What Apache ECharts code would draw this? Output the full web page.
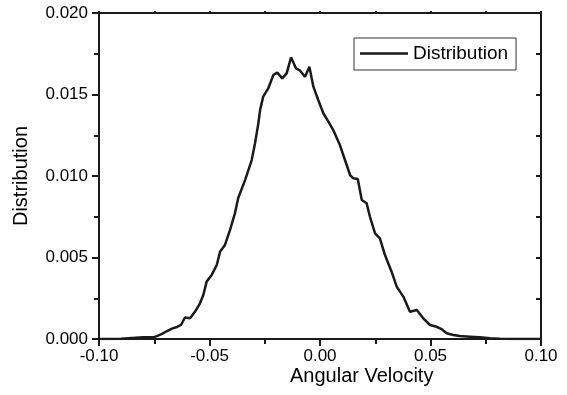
<!DOCTYPE html>
<html>
<head>
<meta charset="utf-8">
<script src="https://cdn.jsdelivr.net/npm/echarts@6/dist/echarts.min.js"></script>
<style>
  html, body { margin: 0; padding: 0; background: #fff; }
  #chart { width: 567px; height: 395px; }
</style>
</head>
<body>
<div id="chart"></div>
<script>
const angularVelocity = [
  -0.1000, -0.0950, -0.0900, -0.0851, -0.0801, -0.0751, -0.0738, -0.0715, -0.0692, -0.0670,
  -0.0647, -0.0629, -0.0611, -0.0588, -0.0566, -0.0543, -0.0528, -0.0513, -0.0490, -0.0467,
  -0.0452, -0.0430, -0.0407, -0.0385, -0.0370, -0.0339, -0.0309, -0.0294, -0.0279, -0.0271,
  -0.0257, -0.0234, -0.0211, -0.0193, -0.0171, -0.0151, -0.0131, -0.0109, -0.0090, -0.0068,
  -0.0048, -0.0030, -0.0008, 0.0015, 0.0038, 0.0060, 0.0090, 0.0113, 0.0136, 0.0151,
  0.0171, 0.0189, 0.0211, 0.0226, 0.0249, 0.0271, 0.0294, 0.0324, 0.0347, 0.0377,
  0.0407, 0.0438, 0.0467, 0.0498, 0.0528, 0.0551, 0.0573, 0.0603, 0.0633, 0.0679,
  0.0724, 0.0769, 0.0814, 0.0860, 0.1000
];
const distribution = [
  0, 0, 0.00001, 0.00006, 0.0001, 0.00011, 0.00018, 0.00031, 0.00049, 0.00064,
  0.00074, 0.00086, 0.00132, 0.00127, 0.00167, 0.00219, 0.0027, 0.00352, 0.00393, 0.00454,
  0.00536, 0.00577, 0.00669, 0.00771, 0.00865, 0.00975, 0.01098, 0.01201, 0.01323, 0.01405,
  0.01487, 0.01538, 0.0162, 0.01634, 0.01599, 0.0163, 0.01728, 0.01661, 0.01646, 0.01609,
  0.01671, 0.01548, 0.01466, 0.01385, 0.01333, 0.01282, 0.0119, 0.01098, 0.01006, 0.00986,
  0.00982, 0.00853, 0.00833, 0.0075, 0.00648, 0.00618, 0.00515, 0.00413, 0.00321, 0.0026,
  0.00167, 0.00178, 0.00127, 0.00086, 0.00075, 0.0006, 0.00035, 0.00025, 0.00018, 0.00014,
  0.0001, 0.00005, 0.00001, 0, 0
];

const FONT = "'Liberation Sans', Arial, sans-serif";
const INK = "#1a1a1a";

const chart = echarts.init(document.getElementById("chart"), null, { renderer: "canvas" });

const axisLine = { show: true, onZero: false, lineStyle: { color: INK, width: 2 } };

const options = {
  backgroundColor: "#fff",
  animation: false,
  grid: { left: 99, right: 26, top: 13, bottom: 56, containLabel: false },
  legend: {
    show: true,
    left: 354,
    top: 38,
    padding: [6, 8, 7, 6],
    borderColor: "#333",
    borderWidth: 1,
    borderRadius: 0,
    icon: "path://M0 0H48V2.5H0Z",
    itemWidth: 48,
    itemHeight: 2.5,
    itemGap: 5,
    textStyle: { fontFamily: FONT, fontSize: 19, color: "#000" },
    data: ["Distribution"],
  },
  xAxis: [
    {
      type: "value",
      position: "bottom",
      min: -0.1,
      max: 0.1,
      interval: 0.05,
      axisLine,
      axisTick: { show: true, inside: false, length: 7, lineStyle: { color: INK, width: 2 } },
      minorTick: { show: true, splitNumber: 2, length: 5, lineStyle: { color: INK, width: 2 } },
      splitLine: { show: false },
      axisLabel: {
        fontFamily: FONT,
        fontSize: 17,
        color: "#000",
        margin: 9,
        formatter: (v) => v.toFixed(2),
      },
    },
    {
      type: "value",
      position: "top",
      min: -0.1,
      max: 0.1,
      interval: 0.025,
      axisLine,
      axisTick: { show: true, inside: false, length: 2, lineStyle: { color: INK, width: 2 } },
      splitLine: { show: false },
      axisLabel: { show: false },
    },
  ],
  yAxis: [
    {
      type: "value",
      position: "left",
      min: 0,
      max: 0.02,
      interval: 0.005,
      name: "Distribution",
      nameLocation: "middle",
      nameGap: 68,
      nameTextStyle: { fontFamily: FONT, fontSize: 20, color: "#000" },
      axisLine,
      axisTick: { show: true, inside: false, length: 7, lineStyle: { color: INK, width: 2 } },
      minorTick: { show: true, splitNumber: 2, length: 5, lineStyle: { color: INK, width: 2 } },
      splitLine: { show: false },
      axisLabel: {
        fontFamily: FONT,
        fontSize: 17,
        color: "#000",
        margin: 11,
        formatter: (v) => v.toFixed(3),
      },
    },
    {
      type: "value",
      position: "right",
      min: 0,
      max: 0.02,
      interval: 0.0025,
      axisLine,
      axisTick: { show: true, inside: true, length: 5, lineStyle: { color: INK, width: 2 } },
      splitLine: { show: false },
      axisLabel: { show: false },
    },
  ],
  graphic: [
    {
      type: "text",
      left: 290,
      top: 366,
      style: {
        text: "Angular Velocity",
        fontFamily: FONT,
        fontSize: 20,
        fill: "#000",
      },
    },
  ],
  series: [
    {
      type: "line",
      name: "Distribution",
      xAxisIndex: 0,
      yAxisIndex: 0,
      data: angularVelocity.map((x, i) => [x, distribution[i]]),
      symbol: "none",
      smooth: false,
      color: INK,
      lineStyle: { color: INK, width: 2.5 },
    },
  ],
};

chart.setOption(options);
</script>
</body>
</html>
